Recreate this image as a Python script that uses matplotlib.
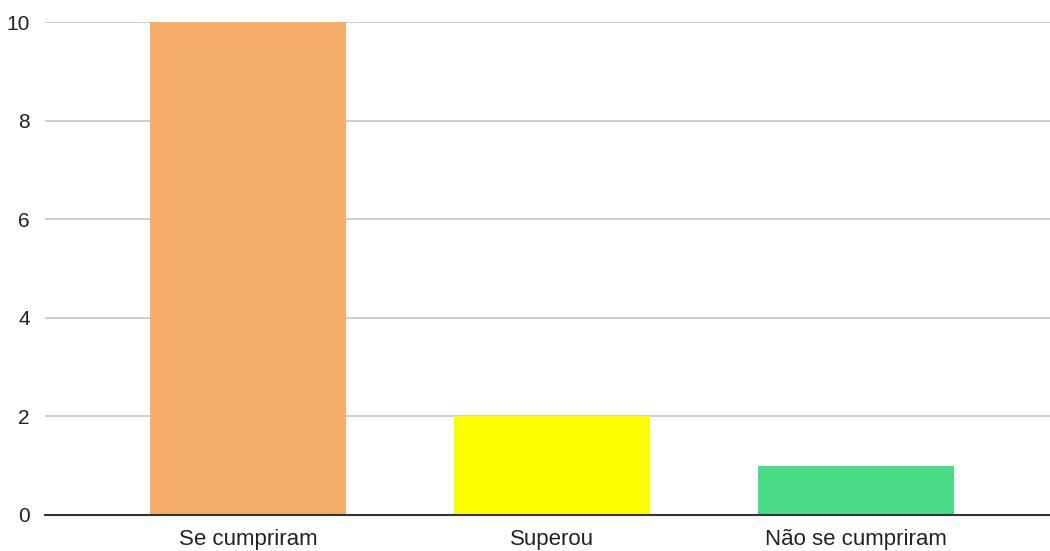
import matplotlib.pyplot as plt

categories = ["Se cumpriram", "Superou", "Não se cumpriram"]
values = [10, 2, 1]
colors = ["#F5AF6A", "#FFFF00", "#4ADC86"]
y_ticks = [0, 2, 4, 6, 8, 10]

plt.rcParams['font.family'] = ['Liberation Sans', 'DejaVu Sans']

fig = plt.figure(figsize=(10.5, 5.51), dpi=100)
ax = fig.add_axes([45 / 1050, 36 / 551, 1005 / 1050, 493 / 551])

x = list(range(len(categories)))
bars = ax.bar(x, values, width=0.645, color=colors, zorder=3)

ax.set_xlim(-0.668, 2.638)
ax.set_ylim(0, 10)
ax.set_yticks(y_ticks)
ax.set_xticks(x)
ax.set_xticklabels(categories, fontsize=16, color="#222222")
ax.tick_params(axis='y', labelsize=15, colors="#222222", length=0, pad=11)
ax.tick_params(axis='x', length=0, pad=10)

ax.grid(axis='y', color="#C8C8C8", linewidth=1.3, zorder=0)
for s in ['top', 'right', 'left']:
    ax.spines[s].set_visible(False)
ax.spines['bottom'].set_color("#333333")
ax.spines['bottom'].set_linewidth(1.5)
ax.spines['bottom'].set_zorder(4)

fig.savefig("out.png", dpi=100)
